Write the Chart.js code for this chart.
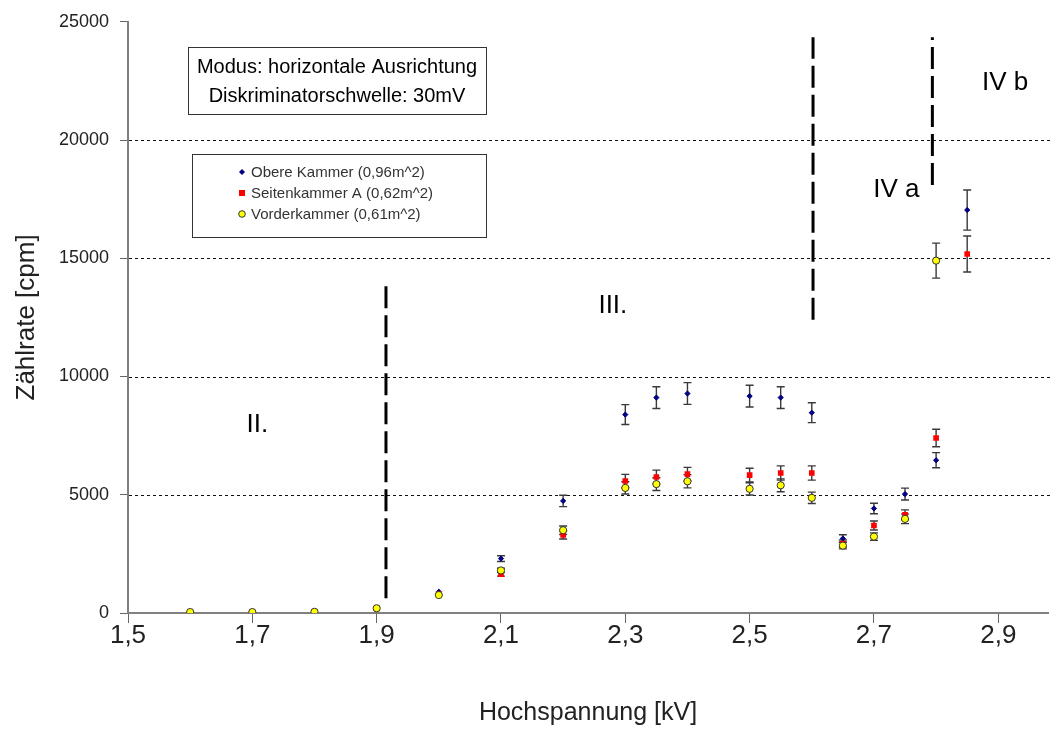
<!DOCTYPE html>
<html><head><meta charset="utf-8">
<script src="https://cdn.jsdelivr.net/npm/chart.js@4.4.1/dist/chart.umd.min.js"></script>
<style>html,body{margin:0;padding:0;background:#fff;}#wrap{width:1053px;height:729px;}</style>
</head><body><div id="wrap"><canvas id="c" width="1053" height="729"></canvas></div>
<script>
// ---- data ----
const voltageAll = [1.6,1.7,1.8,1.9,2.0,2.1,2.2,2.3,2.35,2.4,2.5,2.55,2.6,2.65,2.7,2.75,2.8,2.85];
const obereRate  = [40,40,50,190,900,2300,4740,8390,9110,9280,9170,9110,8470,3150,4420,5030,6460,17040];
const obereErr   = [5,5,5,15,50,120,240,420,460,460,460,460,420,160,220,250,320,850];
const seitenRate = [40,40,50,190,800,1640,3300,5580,5750,5870,5830,5920,5920,2940,3700,4150,7400,15180];
const seitenErr  = [5,5,5,15,40,80,170,280,290,290,290,300,300,150,190,210,370,760];
const voltageVorder = [1.6,1.7,1.8,1.9,2.0,2.1,2.2,2.3,2.35,2.4,2.5,2.55,2.6,2.65,2.7,2.75,2.8];
const vorderRate = [40,40,50,200,760,1800,3500,5290,5450,5570,5250,5400,4870,2850,3230,3980,14900];
const vorderErr  = [5,5,5,15,40,90,180,260,270,280,260,270,240,140,160,200,740];

const seriesLabels = ['Obere Kammer (0,96m^2)','Seitenkammer A (0,62m^2)','Vorderkammer (0,61m^2)'];
const xTickValues = [1.5,1.7,1.9,2.1,2.3,2.5,2.7,2.9];
const yTickValues = [0,5000,10000,15000,20000,25000];
const gridValues = [5000,10000,15000,20000];

// region separators (dashed) and labels
const sepX    = [1.915, 2.602, 2.794];
const sepYlow = [620, 12400, 18100];
const sepYhigh= [14000, 24350, 24350];
const regionLabels = ['II.','III.','IV a','IV b'];
const regionX = [1.708, 2.28, 2.736, 2.911];
const regionY = [7970, 13000, 17900, 22440];

const infoLines = ['Modus: horizontale Ausrichtung','Diskriminatorschwelle: 30mV'];

const FONT = "'Liberation Sans', Arial, sans-serif";
const pts = (xs, ys) => xs.map((x,i)=>({x:x, y:ys[i]}));

const sepDatasets = sepX.map((x,i)=>({
  type:'line', label:'sep'+i,
  data:[{x:x,y:sepYlow[i]},{x:x,y:sepYhigh[i]}],
  borderColor:'#000', borderWidth:3, borderDash:[22,7],
  pointRadius:0, showLine:true, fill:false, order:10
}));

const datasets = [
  {label:seriesLabels[0], data:pts(voltageAll,obereRate), errors:obereErr,
   pointStyle:'rectRot', radius:2.6, backgroundColor:'#000080', borderColor:'#000080', borderWidth:1, order:3},
  {label:seriesLabels[1], data:pts(voltageAll,seitenRate), errors:seitenErr,
   pointStyle:'rect', radius:4, backgroundColor:'#ff0000', borderColor:'#ff0000', borderWidth:0, order:2},
  {label:seriesLabels[2], data:pts(voltageVorder,vorderRate), errors:vorderErr,
   pointStyle:'circle', radius:3.6, backgroundColor:'#ffff00', borderColor:'#333', borderWidth:1, order:1},
  ...sepDatasets
];

const overlay = {
  id:'overlay',
  beforeDatasetsDraw(chart){
    const {ctx, chartArea, scales:{x,y}} = chart;
    ctx.save();
    ctx.strokeStyle='#111'; ctx.lineWidth=1; ctx.setLineDash([3,3]);
    gridValues.forEach(v=>{
      const py = Math.round(y.getPixelForValue(v))+0.5;
      ctx.beginPath(); ctx.moveTo(chartArea.left+1,py); ctx.lineTo(1053,py); ctx.stroke();
    });
    ctx.setLineDash([]);
    // error bars
    ctx.strokeStyle='#3a3a3a'; ctx.lineWidth=1.4;
    chart.data.datasets.forEach(ds=>{
      if(!ds.errors) return;
      ds.data.forEach((p,i)=>{
        const e = ds.errors[i];
        const px = x.getPixelForValue(p.x);
        const yt = y.getPixelForValue(p.y+e), yb = y.getPixelForValue(p.y-e);
        if (yb-yt < 3) return;
        ctx.beginPath();
        ctx.moveTo(px,yt); ctx.lineTo(px,yb);
        ctx.moveTo(px-4,yt); ctx.lineTo(px+4,yt);
        ctx.moveTo(px-4,yb); ctx.lineTo(px+4,yb);
        ctx.stroke();
      });
    });
    ctx.restore();
  },
  afterDraw(chart){
    const {ctx, scales:{x,y}} = chart;
    ctx.save();
    // region labels
    ctx.fillStyle='#000'; ctx.font='26px '+FONT; ctx.textAlign='center'; ctx.textBaseline='middle';
    regionLabels.forEach((t,i)=>ctx.fillText(t, x.getPixelForValue(regionX[i]), y.getPixelForValue(regionY[i])));
    // info box
    ctx.fillStyle='#fff'; ctx.fillRect(188,47,298,67);
    ctx.strokeStyle='#333'; ctx.lineWidth=1; ctx.strokeRect(188.5,47.5,298,67);
    ctx.fillStyle='#000'; ctx.font='20px '+FONT;
    ctx.fillText(infoLines[0], 337, 67);
    ctx.fillText(infoLines[1], 337, 96);
    // legend box
    ctx.fillStyle='#fff'; ctx.fillRect(192,154,294,83);
    ctx.strokeRect(192.5,154.5,294,83);
    const rows=[172,193,214];
    ctx.font='15px '+FONT; ctx.textAlign='left';
    chart.data.datasets.slice(0,3).forEach((ds,i)=>{
      const mx=242, my=rows[i];
      ctx.fillStyle=ds.backgroundColor; ctx.strokeStyle=ds.borderColor; ctx.lineWidth=ds.borderWidth;
      ctx.beginPath();
      if(ds.pointStyle==='rectRot'){ctx.moveTo(mx,my-3);ctx.lineTo(mx+3,my);ctx.lineTo(mx,my+3);ctx.lineTo(mx-3,my);ctx.closePath();ctx.fill();}
      else if(ds.pointStyle==='rect'){ctx.fillRect(mx-3,my-3,6,6);}
      else {ctx.arc(mx,my,3.3,0,Math.PI*2);ctx.fill();ctx.stroke();}
      ctx.fillStyle='#333';
      ctx.fillText(ds.label, 251, my+1);
    });
    ctx.restore();
  }
};

new Chart(document.getElementById('c'), {
  type:'scatter',
  data:{datasets},
  options:{
    responsive:false, animation:false, devicePixelRatio:1,
    layout:{padding:{top:17,right:0,left:0,bottom:0}},
    plugins:{legend:{display:false}, tooltip:{enabled:false}},
    scales:{
      x:{type:'linear', min:1.5, max:2.98,
        afterBuildTicks:s=>{s.ticks=xTickValues.map(v=>({value:v}));},
        afterFit:s=>{s.height=116;},
        ticks:{autoSkip:false, maxRotation:0, padding:-3, color:'#222',
          font:{family:FONT,size:26},
          callback:v=>Number(v).toFixed(1).replace('.',',')},
        grid:{drawOnChartArea:false, drawTicks:true, tickLength:10, tickColor:'#666', tickWidth:1},
        border:{color:'#808080', width:2},
        title:{display:true, text:'Hochspannung [kV]', color:'#222', font:{family:FONT,size:25}, padding:{top:0,bottom:1}}
      },
      y:{type:'linear', min:0, max:25000,
        afterBuildTicks:s=>{s.ticks=yTickValues.map(v=>({value:v}));},
        afterFit:s=>{s.width=128;},
        ticks:{padding:11, color:'#222', font:{family:FONT,size:18}, callback:v=>String(v)},
        grid:{drawOnChartArea:false, drawTicks:true, tickLength:8, tickColor:'#666', tickWidth:1},
        border:{color:'#808080', width:2},
        title:{display:true, text:'Zählrate [cpm]', color:'#222', font:{family:FONT,size:26}, padding:{top:11,bottom:0}}
      }
    }
  },
  plugins:[overlay]
});
</script></body></html>
